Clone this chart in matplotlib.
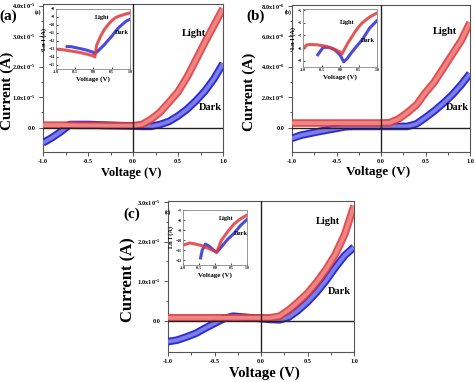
import numpy as np
import matplotlib
matplotlib.use('Agg')
import matplotlib.pyplot as plt

plt.rcParams['font.family'] = ['Liberation Serif', 'DejaVu Serif']
plt.rcParams['font.weight'] = 'bold'
plt.rcParams['mathtext.fontset'] = 'custom'
plt.rcParams['mathtext.rm'] = 'Liberation Serif:bold'
plt.rcParams['mathtext.default'] = 'rm'

## voltage sweep (V)
voltage = [-1.0, -0.9, -0.8, -0.7, -0.6, -0.5, -0.4, -0.3, -0.2, -0.1, 0.0,
           0.1, 0.2, 0.3, 0.4, 0.5, 0.6, 0.7, 0.8, 0.9, 1.0]

## panel (a) current, units of 1e-5 A
light_a = [0.08, 0.08, 0.08, 0.08, 0.07, 0.07, 0.07, 0.06, 0.06, 0.06, 0.06,
           0.10, 0.27, 0.50, 0.83, 1.17, 1.65, 2.22, 2.80, 3.35, 3.90]
dark_a = [-0.50, -0.33, -0.13, 0.10, 0.10, 0.10, 0.09, 0.08, 0.07, 0.06, 0.05,
          0.04, 0.04, 0.10, 0.20, 0.38, 0.60, 0.88, 1.20, 1.60, 2.10]

## panel (b) current, units of 1e-6 A
light_b = [0.30, 0.30, 0.30, 0.30, 0.30, 0.30, 0.30, 0.30, 0.30, 0.30, 0.30,
           0.32, 0.58, 1.00, 1.50, 2.30, 3.00, 3.90, 4.80, 5.70, 6.90]
dark_b = [-0.70, -0.50, -0.38, -0.26, -0.15, -0.05, 0.06, 0.08, 0.08, 0.08, 0.08,
          0.08, 0.08, 0.08, 0.25, 0.66, 1.10, 1.60, 2.15, 2.80, 3.55]

## panel (c) current, units of 1e-5 A
light_c = [0.08, 0.08, 0.08, 0.08, 0.08, 0.08, 0.08, 0.08, 0.08, 0.08, 0.08,
           0.08, 0.12, 0.28, 0.48, 0.70, 0.98, 1.30, 1.68, 2.18, 2.90]
dark_c = [-0.52, -0.48, -0.40, -0.31, -0.18, -0.06, 0.06, 0.12, 0.10, 0.08, 0.06,
          0.04, 0.03, 0.10, 0.27, 0.48, 0.73, 1.02, 1.35, 1.65, 1.86]

## insets: Ln I vs V
ins_a_v_light = [-1.0, -0.8, -0.6, -0.4, -0.2, 0.0, 0.05, 0.1, 0.2, 0.3, 0.4, 0.5, 0.6, 0.7, 0.8, 0.9, 1.0]
ins_a_light = [-13.0, -13.1, -13.25, -13.4, -13.6, -13.85, -14.0, -12.5, -11.45, -10.6, -10.0, -9.5, -9.1, -8.9, -8.75, -8.6, -8.5]
ins_a_v_dark = [-0.7, -0.6, -0.4, -0.2, 0.0, 0.05, 0.1, 0.2, 0.3, 0.4, 0.5, 0.6, 0.7, 0.8, 0.9, 1.0]
ins_a_dark = [-12.7, -12.7, -12.9, -13.1, -13.4, -13.55, -13.4, -12.95, -12.5, -11.95, -11.45, -10.85, -10.3, -9.9, -9.5, -9.3]

ins_b_v_light = [-1.0, -0.9, -0.8, -0.6, -0.4, -0.2, 0.0, 0.05, 0.1, 0.2, 0.3, 0.4, 0.5, 0.6, 0.8, 1.0]
ins_b_light = [-8.07, -7.75, -7.71, -7.75, -7.84, -8.03, -8.3, -8.49, -8.21, -7.66, -7.2, -6.74, -6.33, -6.0, -5.54, -5.22]
ins_b_v_dark = [-0.6, -0.5, -0.45, -0.3, -0.15, 0.0, 0.1, 0.2, 0.3, 0.4, 0.6, 0.8, 1.0]
ins_b_dark = [-8.53, -8.12, -7.94, -7.94, -8.12, -8.53, -9.09, -8.81, -8.4, -8.03, -7.34, -6.42, -5.82]

ins_c_v_light = [-1.0, -0.8, -0.6, -0.4, -0.2, 0.0, 0.05, 0.1, 0.2, 0.4, 0.6, 0.8, 1.0]
ins_c_light = [-10.52, -10.3, -10.41, -10.58, -10.85, -11.13, -11.18, -10.85, -10.03, -9.15, -8.38, -7.88, -7.5]
ins_c_v_dark = [-0.45, -0.4, -0.3, -0.2, -0.1, 0.0, 0.05, 0.2, 0.4, 0.6, 0.8, 1.0]
ins_c_dark = [-11.79, -11.02, -10.41, -10.58, -10.85, -11.13, -11.24, -10.69, -9.92, -9.31, -8.54, -7.94]

RED_EDGE = '#e03a3a'
RED_FILL = '#f08c8c'
BLUE_EDGE = '#2b2bd6'
BLUE_FILL = '#7d7de8'
SPINE = '#555555'


def band(ax, x, y, edge, fill, alpha=1.0):
    ## thick band imitating overlapping open circles
    ax.plot(x, y, color=edge, lw=5.5, alpha=alpha, solid_capstyle='butt', solid_joinstyle='round', zorder=3)
    ax.plot(x, y, color=fill, lw=2.8, alpha=alpha, solid_capstyle='butt', solid_joinstyle='round', zorder=3)


def main_panel(rect, light, dark, yticks, ylim, exp, minor_step):
    ax = fig.add_axes(rect)
    band(ax, voltage, dark, BLUE_EDGE, BLUE_FILL)
    band(ax, voltage, light, RED_EDGE, RED_FILL, alpha=0.9)
    ax.axhline(0, color='#222222', lw=1.0, zorder=4)
    ax.axvline(0, color='#222222', lw=1.0, zorder=4)
    ax.set_xlim(-1.0, 1.0)
    ax.set_ylim(*ylim)
    ax.set_xticks([-1.0, -0.5, 0.0, 0.5, 1.0])
    ax.set_xticklabels(['-1.0', '-0.5', '0.0', '0.5', '1.0'])
    ax.set_xticks([-0.75, -0.25, 0.25, 0.75], minor=True)
    ax.set_yticks(yticks)
    labels = ['0.0'] + ['%.1fx10$^{%d}$' % (t, exp) for t in yticks[1:]]
    ax.set_yticklabels(labels)
    ax.set_yticks(np.arange(yticks[0] + minor_step, yticks[-1], minor_step * 2), minor=True)
    ax.tick_params(which='both', direction='out', labelsize=4.5, width=0.7, color=SPINE, pad=2)
    ax.tick_params(which='major', length=3)
    ax.tick_params(which='minor', length=1.8)
    for s in ax.spines.values():
        s.set_color(SPINE)
        s.set_linewidth(0.8)
    return ax


def inset(rect, vl, il, vd, idk, ylim, yticks, tag, light_pos, dark_pos, tag_pos):
    ax = fig.add_axes(rect)
    ax.plot(vd, idk, color=BLUE_EDGE, lw=2.2, alpha=0.85, solid_joinstyle='round')
    ax.plot(vl, il, color=RED_EDGE, lw=2.2, alpha=0.85, solid_joinstyle='round')
    ax.set_xlim(-1.0, 1.0)
    ax.set_ylim(*ylim)
    ax.set_xticks([-1.0, -0.5, 0.0, 0.5, 1.0])
    ax.set_xticklabels(['-1.0', '-0.5', '0.0', '0.5', '1.0'])
    ax.set_yticks(yticks)
    ax.tick_params(direction='in', labelsize=2.8, length=1.5, width=0.5, pad=1)
    ax.set_xlabel('Voltage (V)', fontsize=5, fontweight='bold', labelpad=1)
    ax.set_ylabel('Ln I (A)', fontsize=4.5, fontweight='bold', labelpad=1)
    ax.text(light_pos[0], light_pos[1], 'Light', transform=ax.transAxes, fontsize=4.5,
            fontweight='bold', ha='center', va='center')
    ax.text(dark_pos[0], dark_pos[1], 'Dark', transform=ax.transAxes, fontsize=4.5,
            fontweight='bold', ha='center', va='center')
    ax.text(tag_pos[0], tag_pos[1], tag, transform=ax.transAxes, fontsize=4,
            fontweight='bold', ha='center', va='center')
    for s in ax.spines.values():
        s.set_color('#888888')
        s.set_linewidth(0.6)
    return ax


W, H = 474.0, 382.0
fig = plt.figure(figsize=(4.74, 3.82), dpi=100)

## main panels
main_panel([43 / W, 1 - 152 / H, 180 / W, 148 / H], light_a, dark_a, [0, 1, 2, 3, 4], (-0.8, 4.05), -5, 0.5)
main_panel([292 / W, 1 - 152 / H, 178 / W, 147 / H], light_b, dark_b, [0, 2, 4, 6, 8], (-1.6, 8.05), -6, 1.0)
main_panel([168 / W, 1 - 352 / H, 186 / W, 151 / H], light_c, dark_c, [0, 1, 2, 3], (-0.78, 3.02), -5, 0.5)

## insets
inset([56 / W, 1 - 69 / H, 74 / W, 60 / H], ins_a_v_light, ins_a_light, ins_a_v_dark, ins_a_dark,
      (-15.5, -8.0), [-8, -9, -10, -11, -12, -13, -14, -15], '(a)', (0.63, 0.86), (0.89, 0.6), (-0.24, 0.95))
inset([303 / W, 1 - 67 / H, 74 / W, 58 / H], ins_b_v_light, ins_b_light, ins_b_v_dark, ins_b_dark,
      (-9.5, -4.9), [-5, -6, -7, -8, -9], '(b)', (0.6, 0.76), (0.88, 0.46), (-0.2, 0.95))
inset([183 / W, 1 - 265 / H, 64 / W, 55 / H], ins_c_v_light, ins_c_light, ins_c_v_dark, ins_c_dark,
      (-12.5, -7.0), [-7, -8, -9, -10, -11, -12], '(c)', (0.67, 0.84), (0.9, 0.58), (-0.24, 0.97))

## panel letters, axis labels and curve labels
for x, y, s in [(8.5, 16, '(a)'), (256, 16, '(b)'), (132, 214, '(c)')]:
    fig.text(x / W, 1 - y / H, s, fontsize=11, fontweight='bold', ha='center', va='center')

for x, y, fs in [(7.5, 91, 11), (249, 92, 11), (128, 280, 12)]:
    fig.text(x / W, 1 - y / H, 'Current (A)', fontsize=fs, fontweight='bold', rotation=90,
             ha='center', va='center')

for x, y, fs in [(131, 173, 9), (378, 172, 9.5), (264, 373, 10.5)]:
    fig.text(x / W, 1 - y / H, 'Voltage (V)', fontsize=fs, fontweight='bold', ha='center', va='center')

for x, y, s in [(194, 34, 'Light'), (210, 108, 'Dark'), (444.5, 32, 'Light'), (457, 107, 'Dark'),
                (328, 221, 'Light'), (339.5, 292, 'Dark')]:
    fig.text(x / W, 1 - y / H, s, fontsize=7.5, fontweight='bold', ha='center', va='center')

fig.savefig('out.png', dpi=100)
